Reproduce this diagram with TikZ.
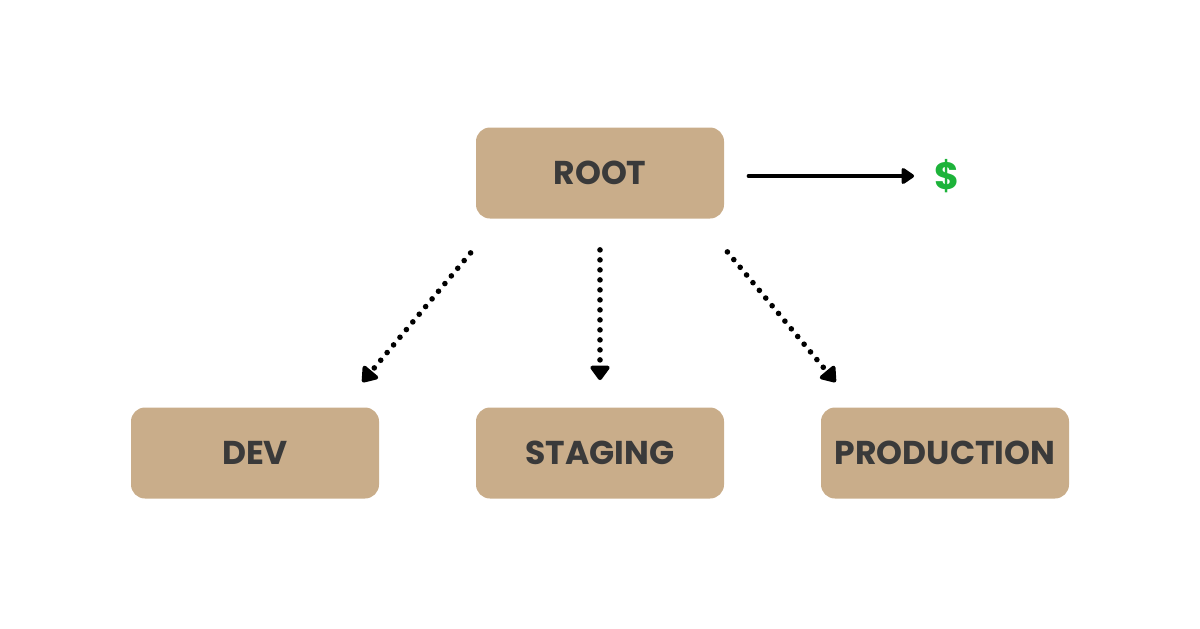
\documentclass[tikz,border=0pt]{standalone}
\usepackage{fontspec}
\setmainfont{Poppins}
\usetikzlibrary{arrows.meta}
\definecolor{boxtan}{HTML}{C9AD8A}
\definecolor{boxtext}{HTML}{3A3A3A}
\definecolor{moneygreen}{HTML}{1DB33A}
\tikzset{
  envbox/.style={rectangle, rounded corners=7pt, fill=boxtan, minimum width=124pt,
    minimum height=45.5pt, text=boxtext, font=\fontsize{16.5}{16.5}\selectfont\bfseries},
  dotarrow/.style={line width=2.8pt, line cap=round, dash pattern=on 0pt off 5pt,
    -{Triangle[length=8pt,width=11pt,round]}},
  paysarrow/.style={line width=1.7pt, line cap=round, -{Triangle[length=7pt,width=9pt,round]}}
}
\begin{document}
\begin{tikzpicture}[x=0.5pt,y=-0.5pt]
    \useasboundingbox (0,0) rectangle (1200,628);
    \node[envbox] (root) at (600,173) {ROOT};
    \node[envbox] (dev) at (255,453) {DEV};
    \node[envbox] (staging) at (600,453) {STAGING};
    \node[envbox] (production) at (945,453) {PRODUCTION};
    \node[text=moneygreen, inner sep=0pt, font=\fontsize{19}{19}\selectfont\bfseries] (dollar) at (947,176) {\$};
    % dotted links to the environments
    \coordinate (d1s) at ([shift={(-5,34)}]root.south west);
    \coordinate (d1e) at ([shift={(-17,-25)}]dev.north east);
    \coordinate (d2s) at ([shift={(0,31)}]root.south);
    \coordinate (d2e) at ([shift={(0,-27)}]staging.north);
    \coordinate (d3s) at ([shift={(3,33)}]root.south east);
    \coordinate (d3e) at ([shift={(15,-25)}]production.north west);
    \draw[dotarrow] (d1s) -- (d1e);
    \draw[dotarrow] (d2s) -- (d2e);
    \draw[dotarrow] (d3s) -- (d3e);
    \draw[paysarrow, shorten <=12pt, shorten >=10pt] (root.east |- dollar.center) -- (dollar.west);
\end{tikzpicture}
\end{document}
